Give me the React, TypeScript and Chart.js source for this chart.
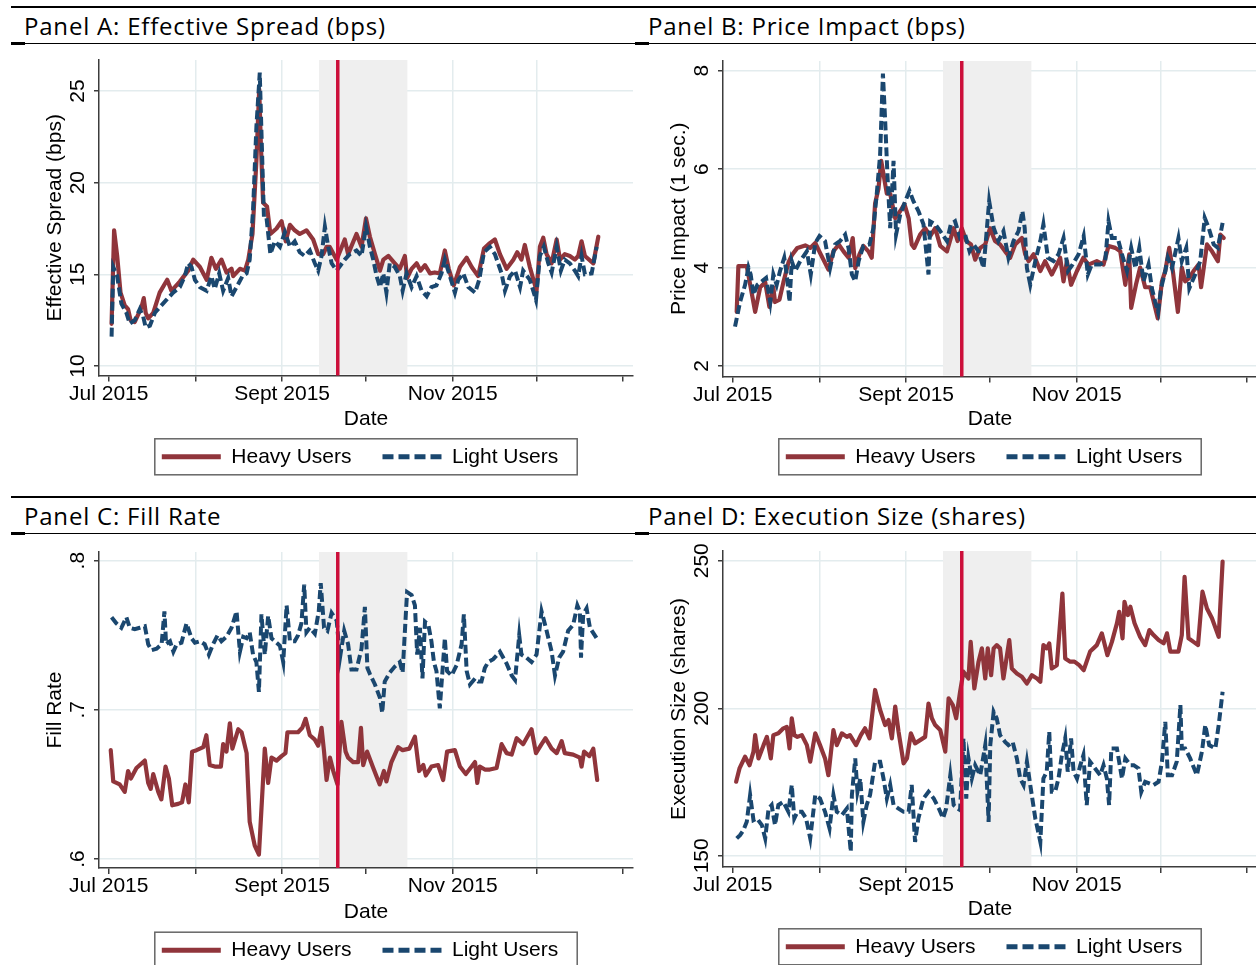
import React, { useEffect, useRef } from 'react';
import Chart from 'chart.js/auto';

// ---------- data (x = calendar days after 1 Jul 2015) ----------
const monthTickDays = [0, 31, 62, 92, 123, 153, 184];
const monthTickLabels = ['Jul 2015', '', 'Sept 2015', '', 'Nov 2015', '', ''];
const seriesNames = ['Heavy Users', 'Light Users'];
const eventWindowDays = [75.2, 106.8];
const eventDay = 81.9;

const spreadTicks = [10, 15, 20, 25];
const spreadTickLabels = ['10', '15', '20', '25'];
const impactTicks = [2, 4, 6, 8];
const impactTickLabels = ['2', '4', '6', '8'];
const fillTicks = [0.6, 0.7, 0.8];
const fillTickLabels = ['.6', '.7', '.8'];
const sizeTicks = [150, 200, 250];
const sizeTickLabels = ['150', '200', '250'];

const spreadHeavy = [[1,12.3],[1.9,17.4],[3,16.0],[4.2,14.0],[5.7,13.3],[6.9,13.1],[7.8,12.5],[9.3,12.4],[11.7,13.2],[12.5,13.7],[13.2,12.9],[14.1,12.6],[15.9,12.9],[18.2,14.0],[20.9,14.7],[22.4,14.1],[25.4,14.6],[28.4,15.2],[30.2,15.8],[32.6,15.4],[35,14.7],[36.7,15.9],[38.3,15.3],[40.3,15.8],[42.1,15.1],[43.9,15.3],[44.5,14.9],[46.9,15.3],[48.7,15.2],[49.9,15.8],[51.4,17.2],[52.8,21.2],[53.8,25.1],[54.4,22.1],[55.2,18.9],[56.6,18.7],[57.8,17.2],[60,17.5],[61.8,17.9],[63.3,16.8],[64.8,17.7],[66.5,17.4],[68.3,17.2],[70.7,17.4],[73.1,16.9],[74.9,16.1],[76.7,16.1],[77.9,16.5],[79,16.5],[81.5,15.8],[84.4,16.9],[85.6,16.1],[88.6,17.2],[90.4,16.5],[92,18.05],[93.4,17.05],[95.2,16.1],[97,15.2],[98.2,15.8],[100,16.0],[102.3,15.6],[104.1,15.3],[105.9,16.0],[106.7,14.8],[108.3,15.3],[110.1,15.6],[111.5,15.2],[113.1,15.5],[114.9,15.05],[116.6,15.1],[118.4,15.05],[120.2,16.3],[121.6,15.3],[123.4,14.4],[125.6,15.4],[128,15.9],[129.8,15.4],[132.1,14.9],[134.2,16.4],[136.3,16.7],[138.1,16.9],[139.9,16.1],[142.3,15.3],[144.7,15.8],[146.1,16.2],[147.6,15.8],[148.8,16.6],[150.6,15.4],[153,14.1],[154.2,16.5],[155.4,17.0],[156.6,16.1],[158.4,15.6],[160.2,16.9],[161.4,15.8],[163.1,16.1],[164.9,16.0],[166.7,15.8],[167.9,16.0],[169.1,16.8],[170.3,16.0],[173.3,15.6],[175.1,17.05]];
const spreadLight = [[1,11.6],[1.6,15.4],[3,14.9],[4.5,13.4],[6.3,12.9],[7.5,12.3],[9.3,12.5],[11.1,13.1],[12.3,12.7],[13.2,12.1],[14.7,12.2],[16.5,12.9],[18.2,13.2],[20.6,13.6],[23,14.0],[25.4,14.3],[27.2,14.9],[28.4,15.6],[29.6,15.4],[30.8,14.7],[32.6,14.3],[35,14.1],[36.7,14.9],[37.9,14.2],[39.5,15.05],[40.9,14.1],[42.7,14.8],[43.9,13.8],[45.7,14.3],[47.8,14.9],[49.3,15.05],[50.4,15.8],[51.6,18.5],[52.8,23.05],[54,26.0],[54.9,21.2],[55.5,18.1],[56.4,18.1],[57.8,16.1],[59.4,16.8],[61.2,16.5],[63,17.3],[64.8,16.5],[66.5,16.8],[68.3,16.2],[70.1,16.0],[71.9,16.3],[73.7,15.6],[74.9,15.2],[76.1,16.0],[77.3,17.6],[78.5,16.5],[79.7,15.6],[81.5,15.2],[84.4,15.8],[86.2,16.1],[88.6,16.3],[90.4,16.0],[92,17.6],[93.4,16.5],[94.6,15.8],[95.8,14.9],[97,14.3],[98.2,15.05],[99.3,14.0],[100.5,15.6],[102.3,15.4],[104.1,14.9],[105.1,14.1],[106.5,15.05],[108.3,14.3],[110.1,14.9],[111.9,14.1],[113.7,13.8],[115.4,14.3],[117.2,14.4],[119,15.05],[120.2,15.8],[122,14.9],[123.8,14.0],[125,14.7],[126.8,15.05],[128.6,14.3],[131,14.0],[132.5,14.7],[134.2,16.2],[136.3,16.5],[138.1,16.1],[140.5,15.05],[141.7,14.1],[143.5,14.9],[145.3,15.2],[147.1,14.3],[148.2,15.2],[150.6,14.7],[152.8,13.6],[154.2,16.0],[155.6,16.5],[157.2,15.6],[158.4,15.1],[160.2,16.5],[161.7,15.2],[163.1,15.8],[164.9,15.6],[166.7,15.2],[167.9,14.9],[169.1,16.0],[170.3,15.0],[172.7,15.05],[174.5,16.5]];

const impactHeavy = [[1.4,3.1],[2,4.03],[5,4.03],[6.4,3.6],[8,3.1],[9.8,3.6],[11.6,3.7],[13.1,3.2],[14.5,3.6],[15.1,3.3],[16.7,3.35],[18.1,3.7],[19.9,4.1],[21.1,4.25],[23.1,4.4],[25.9,4.45],[27.7,4.4],[29.5,4.5],[31.2,4.3],[34.2,3.96],[36,4.33],[37.9,4.47],[39.6,4.33],[41.4,4.2],[42.9,4.6],[43.8,3.99],[45.3,4.27],[46.7,4.44],[48.5,4.33],[49.7,4.2],[50.9,5.3],[52.1,5.6],[53.1,6.17],[53.9,5.9],[55.1,5.5],[56.3,5.5],[58.1,5.0],[59.9,5.15],[61.4,5.29],[62.9,5.0],[64,4.47],[64.9,4.4],[67,4.67],[68.8,4.8],[70.6,4.64],[72.4,4.8],[74.2,4.44],[76.6,4.33],[79,4.8],[80.4,4.54],[81.9,4.8],[83.5,4.54],[85.2,4.47],[86.7,4.16],[88.5,4.4],[90.3,4.47],[92,4.8],[93.8,4.54],[95.6,4.47],[97.4,4.33],[99.2,4.2],[101,4.47],[103.4,4.6],[104.6,4.27],[105.8,4.13],[107.6,4.27],[110,3.93],[111.7,4.13],[114.1,3.86],[115.9,4.06],[117.1,4.2],[118.3,3.72],[119.5,4.13],[121,3.65],[123.1,3.93],[125.4,4.2],[127.2,4.06],[130.2,4.13],[132.6,4.06],[134.4,4.44],[136.8,4.4],[138.6,4.33],[140.4,3.65],[141.8,4.27],[142.5,3.18],[144.2,3.65],[145.7,4.0],[147.5,3.6],[149.3,3.6],[152,2.97],[153.5,3.72],[154.7,3.93],[156.1,4.4],[157.4,3.93],[159.2,3.1],[160.6,4.0],[161.8,3.72],[163.3,3.79],[164.8,3.93],[166.6,4.06],[167.5,3.6],[169.6,4.47],[171.4,4.33],[173.5,4.13],[174.4,4.67],[175.6,4.6]];
const impactLight = [[0.8,2.8],[2.6,3.3],[4.4,3.65],[5.6,4.0],[6.4,3.86],[7.4,3.45],[8.8,3.65],[10.4,3.72],[11.9,3.79],[13.4,3.3],[14.5,3.86],[15.7,3.65],[16.9,3.93],[18.4,4.2],[19.3,3.86],[20.3,3.3],[21.1,4.13],[22.3,3.93],[24.1,4.13],[26.5,4.33],[27.9,3.86],[29.5,4.5],[31,4.64],[33,4.54],[34.8,3.99],[36.6,4.47],[38.4,4.54],[40.2,4.67],[41.4,4.4],[42.6,3.86],[43.8,3.72],[45,4.13],[46.7,4.44],[48.9,4.47],[50.3,4.8],[51.5,5.5],[52.7,6.3],[53.7,7.94],[54.5,6.99],[55.3,5.9],[56.3,4.8],[57.5,6.17],[58.4,4.67],[59.9,5.08],[61.7,5.35],[63.2,5.56],[64.6,5.35],[66.4,5.15],[68.2,4.88],[70,3.86],[70.6,4.94],[72.4,4.88],[74.2,4.74],[76.6,4.54],[78,4.88],[79.5,4.94],[81.3,4.6],[83.1,4.67],[84.7,4.33],[86.1,4.47],[87.9,4.33],[89.7,3.99],[90.9,4.8],[91.7,5.35],[93.3,4.81],[95,4.54],[96.8,4.74],[98.6,4.2],[100.4,4.54],[102.2,4.74],[103.6,5.15],[104.4,4.81],[105.2,3.99],[106.4,3.65],[108.2,4.13],[110,4.54],[111.1,4.88],[112.7,4.2],[114.7,4.13],[116.5,4.27],[118.3,4.6],[119.9,3.93],[121.5,4.06],[123.7,4.27],[125.5,4.64],[127,3.86],[128.4,4.06],[131.4,4.06],[133.2,4.13],[134.4,4.94],[135.6,4.6],[137.7,4.6],[139.2,4.27],[141,3.93],[142.5,4.4],[144,3.99],[145.4,4.4],[146.9,3.72],[148.7,4.06],[149.9,3.58],[151.1,3.3],[152.1,3.1],[153.2,3.58],[154.7,3.93],[155.6,4.2],[157.1,3.99],[159.4,4.6],[160.6,4.13],[162.2,4.4],[163.3,3.58],[165.4,3.86],[167.2,4.13],[168.8,5.01],[170.2,4.81],[172,4.47],[173.5,4.4],[175.2,4.91]];

const fillHeavy = [[0.7,.673],[1.6,.652],[3.9,.650],[5.7,.645],[6.9,.659],[7.9,.654],[9.9,.661],[12.9,.666],[14.1,.651],[15,.647],[15.9,.657],[17.7,.645],[18.8,.640],[20.3,.662],[21.5,.654],[22.7,.636],[24.8,.637],[26.2,.638],[27.4,.650],[28.6,.638],[29.8,.672],[31.4,.673],[33.8,.675],[34.9,.683],[36.1,.663],[37.9,.662],[40.1,.662],[40.9,.677],[42.1,.672],[43.3,.691],[44.2,.674],[46.3,.687],[47.5,.685],[49.3,.671],[50.4,.625],[52.2,.609],[53.7,.603],[55.8,.674],[57,.651],[58.2,.668],[60,.666],[61.8,.669],[63.2,.671],[63.9,.685],[65.4,.685],[67.7,.685],[69.2,.688],[70.4,.694],[71.9,.683],[73.7,.680],[74.9,.676],[76.1,.688],[77,.672],[77.9,.653],[79.1,.668],[80.3,.659],[81.8,.650],[83.2,.692],[84.7,.672],[85.6,.668],[87.4,.665],[89.2,.665],[90.2,.688],[91,.663],[92.4,.672],[94.6,.661],[96.9,.650],[98.4,.659],[99.3,.652],[101.1,.665],[103.5,.675],[105.1,.673],[107.5,.674],[109.5,.682],[111,.659],[112.5,.663],[113.4,.656],[115.4,.662],[117.8,.663],[119.6,.653],[121,.672],[123.8,.673],[125.6,.662],[127.7,.657],[129.8,.662],[131,.665],[131.8,.651],[132.7,.662],[134.5,.660],[136.3,.660],[138.7,.661],[140.5,.677],[142.3,.671],[144.1,.670],[145.9,.681],[148.2,.677],[151.2,.687],[152.8,.671],[154.8,.677],[156.2,.681],[158.4,.674],[160.2,.671],[162,.679],[163.1,.671],[166.1,.670],[168.5,.668],[169.1,.662],[170,.672],[171.9,.669],[173.3,.674],[174.7,.653]];
const fillLight = [[1,.762],[2.7,.758],[4.5,.755],[6.3,.762],[7.5,.755],[9.3,.754],[11.1,.755],[12.9,.756],[14.1,.744],[15.3,.740],[17.1,.741],[18.9,.744],[19.9,.766],[20.5,.744],[21.9,.746],[23.1,.739],[24.3,.744],[26,.745],[27.8,.758],[29.6,.748],[30.8,.745],[32.6,.746],[34.3,.744],[35.8,.737],[37.3,.744],[38.9,.750],[40.3,.746],[42.1,.749],[43.9,.755],[45.7,.766],[46.9,.739],[48.1,.749],[49.3,.748],[50.4,.752],[51.6,.737],[52.8,.732],[53.7,.712],[54.6,.764],[55.8,.737],[57,.763],[58.2,.748],[60,.745],[61.2,.743],[62.4,.732],[63.6,.770],[64.8,.746],[66.5,.746],[67.7,.750],[68.9,.758],[69.9,.784],[70.7,.752],[71.9,.755],[73.7,.751],[75.1,.766],[75.8,.785],[77,.755],[78.2,.753],[79.7,.765],[81.5,.760],[82.7,.735],[84.2,.753],[85.6,.744],[86.8,.727],[88.6,.727],[90.4,.741],[91.6,.769],[92.5,.728],[93.4,.724],[95.2,.717],[97,.708],[97.8,.698],[98.7,.719],[100.5,.725],[102.3,.729],[104.1,.732],[105.1,.725],[106.3,.766],[106.7,.779],[108.3,.777],[109.5,.770],[110.3,.737],[111.3,.755],[112.2,.721],[113.1,.759],[114.3,.757],[115.4,.746],[116.3,.732],[117.2,.726],[118.4,.701],[119,.717],[120.2,.748],[121,.726],[122.6,.723],[124.4,.730],[126.2,.744],[127,.764],[128,.726],[129.2,.717],[131,.721],[132.1,.719],[133.3,.719],[134.5,.728],[135.7,.732],[137.5,.734],[139.9,.739],[142.3,.731],[144.1,.723],[145.3,.720],[146.8,.750],[147.6,.737],[149.4,.735],[151.2,.732],[153,.737],[154.8,.766],[156.6,.753],[158.4,.739],[159.6,.723],[161.1,.735],[162.5,.739],[164.3,.753],[166.1,.757],[167.6,.770],[168.5,.766],[168.9,.735],[169.7,.764],[170.9,.768],[172.1,.755],[174.5,.748]];

const sizeHeavy = [[1.2,175.1],[2.4,179.6],[4.4,183.6],[6,180.7],[7.4,185.3],[8,190.9],[9.2,183],[11,187.5],[12.2,190.3],[13.6,183],[14.5,190.9],[16.3,191.5],[18.1,193.2],[19.3,193.7],[20.3,186.4],[21.1,196.6],[22,190.9],[23.1,190.3],[24.7,190.9],[26.5,187.5],[27.7,181.9],[29.5,191.5],[31.2,187.5],[33,183],[34.2,177.3],[36,192.6],[37.2,187.5],[39,191.5],[40.8,190.3],[41.9,190.9],[44.1,187.5],[45.8,190.9],[47.3,193.2],[48.9,189.8],[50.9,206.2],[52.7,199.4],[54.5,194.3],[55.7,196],[56.9,189.8],[58.1,200.6],[59.3,192],[61.1,181.3],[62.3,183],[63.7,191.5],[65.2,188.1],[67,189.2],[68.8,190.3],[70,201.6],[71.2,196.6],[72.4,194.3],[74.2,192.6],[76,185.3],[77.2,203.4],[78.7,201.1],[79.9,196.6],[81.3,205.6],[82.5,212.4],[84.3,210.1],[85.1,222.5],[86.4,206.7],[87.9,215.8],[89.1,220.3],[90.3,210.1],[91.2,220.3],[92.4,211.2],[93.3,220.3],[94.4,221.4],[95.6,220.3],[96.8,210.1],[98.9,223.1],[99.8,213.5],[101.6,211.8],[103.4,210.7],[105.2,208.4],[107,211.2],[108.8,210.1],[110,209],[111.1,221.4],[112.3,220.3],[113.2,222],[114.1,213.5],[115.9,214.6],[117.9,238.9],[118.9,216.9],[120.7,215.8],[122.2,215.8],[123.9,214.6],[125.5,212.9],[127.8,219.2],[130.2,221.4],[132,225.4],[134,218],[135.6,222.5],[137.4,228.8],[138.2,232.7],[139.4,223.7],[140.1,236.1],[141.3,231.6],[142.2,234.4],[143.7,228.8],[145.7,224.2],[147.5,221.4],[149,226.5],[150.5,224.8],[152.3,223.1],[154.1,222],[155.3,225.4],[156.5,219.2],[159.4,219.2],[160.6,224.8],[161.6,244.5],[163,223.7],[164.8,222.5],[166.4,221.4],[168,239.5],[169.6,233.8],[171.4,230.5],[173.8,224.2],[175.2,249.7]];
const sizeLight = [[1.4,155.9],[2.6,157],[3.8,158.7],[5,161.5],[6.2,170.6],[7.4,162.1],[8.6,162.7],[10.4,160.4],[11.6,155.9],[12.8,166],[13.9,167.2],[15.1,160.4],[16.3,167.2],[18.1,168.3],[19.9,164.9],[21.1,174],[22,162.7],[23.1,164.9],[24.7,164.9],[26.2,162.7],[27.7,155.9],[29.5,170.6],[31.2,169.4],[33,164.9],[34.6,159.3],[36,170.6],[37.2,164.9],[39,163.8],[40.8,166],[42.2,151.4],[42.6,170.6],[43.8,183],[44.6,171.7],[45.6,176.2],[46.7,161.5],[47.9,167.2],[49.1,170.6],[50.9,181.9],[52.7,181.9],[53.9,176.2],[55.1,169.4],[56.3,174],[57.5,167.2],[59.3,166],[61.1,164.9],[62.9,164.9],[64,174],[65.2,154.7],[66.4,162.7],[68.2,169.4],[70,171.7],[71.9,169.4],[73.7,166],[75.2,162.7],[76.3,166],[77.8,177.3],[79,167.2],[80.4,166],[81.3,165.5],[82.5,189.8],[83.5,169.4],[84.3,183],[85.5,176.2],[86.7,180.7],[88.5,177.3],[90.3,187.5],[91.5,161.5],[92.1,187.5],[93.3,198.8],[94.4,196.6],[95.6,190.9],[97.4,188.6],[98.6,187.5],[100.1,188.6],[101.6,183],[102.8,176.2],[104,174],[105.2,181.9],[106.4,174],[108.2,162.7],[110,154.7],[111.1,176.2],[112.3,178.5],[113.2,192],[114.1,171.7],[115.3,171.7],[116.5,176.2],[117.7,184.1],[118.9,189.8],[119.8,178.5],[121,189.8],[121.9,178.5],[123.1,176.2],[124.3,180.7],[125.4,184.1],[126.6,167.2],[127.8,181.9],[129.6,179.6],[131.4,177.3],[132.6,180.7],[133.8,176.2],[134.6,167.2],[135.4,186.4],[137.4,186.4],[139.2,176.2],[140.4,183],[142.2,180.7],[143.4,180.7],[145.1,179.6],[146.1,171.7],[147.5,175.1],[150.5,174],[152.3,175.1],[153.5,181.9],[154.7,195.4],[155.6,177.3],[157.1,177.3],[158.8,181.9],[160.1,201.1],[160.6,186.4],[161.8,186.4],[163.6,183],[166,177.3],[167.8,185.3],[169,194.3],[170.4,187.5],[172.6,186.4],[173.8,194.3],[175.2,205.6]];

// ---------- styles / layout ----------
const HEAVY = '#90353B';
const LIGHT = '#1A476F';
const EVENT = '#CC0F3A';
const SHADE = '#EFEFEF';
const GRID = '#E3ECEE';
const AXIS = '#3C3C3C';
const FONT = '"Liberation Sans", Arial, Helvetica, sans-serif';
const TITLE_FONT = '"Open Sans", "Noto Sans", sans-serif';

const panels = [
  { key: 'A', title: 'Panel A: Effective Spread (bps)', yTitle: 'Effective Spread (bps)', heavy: spreadHeavy, light: spreadLight, ticks: spreadTicks, tickLabels: spreadTickLabels, yMin: 9.48, yMax: 26.69, canvasLeft: 30, plotRight: 633, plotTop: 60, plotBottom: 375.5, legendY: 456.8, dateY: 418.8, titleLeft: 24, headerTop: 0 },
  { key: 'B', title: 'Panel B: Price Impact (bps)', yTitle: 'Price Impact (1 sec.)', heavy: impactHeavy, light: impactLight, ticks: impactTicks, tickLabels: impactTickLabels, yMin: 1.787, yMax: 8.197, canvasLeft: 654, plotRight: 1257, plotTop: 61, plotBottom: 376.5, legendY: 456.8, dateY: 419, titleLeft: 648, headerTop: 0 },
  { key: 'C', title: 'Panel C: Fill Rate', yTitle: 'Fill Rate', heavy: fillHeavy, light: fillLight, ticks: fillTicks, tickLabels: fillTickLabels, yMin: 0.594, yMax: 0.8058, canvasLeft: 30, plotRight: 633, plotTop: 552, plotBottom: 868, legendY: 950.2, dateY: 912.5, titleLeft: 24, headerTop: 490 },
  { key: 'D', title: 'Panel D: Execution Size (shares)', yTitle: 'Execution Size (shares)', heavy: sizeHeavy, light: sizeLight, ticks: sizeTicks, tickLabels: sizeTickLabels, yMin: 146.2, yMax: 253.3, canvasLeft: 654, plotRight: 1257, plotTop: 551, plotBottom: 867, legendY: 946.8, dateY: 909.2, titleLeft: 648, headerTop: 490 },
];

const Y_AXIS_W = 69;
const LEGEND_PAD = 31;
const LEGEND_FONT = 21;
const LEGEND_H = LEGEND_FONT + LEGEND_PAD + 10;

const eventPlugin = {
  id: 'eventWindow',
  beforeDatasetsDraw(chart: any) {
    const { ctx, chartArea, scales } = chart;
    const x0 = scales.x.getPixelForValue(eventWindowDays[0]);
    const x1 = scales.x.getPixelForValue(eventWindowDays[1]);
    ctx.save();
    ctx.fillStyle = SHADE;
    ctx.fillRect(x0, chartArea.top, x1 - x0, chartArea.bottom - chartArea.top - 1);
    ctx.restore();
  },
  afterDatasetsDraw(chart: any) {
    const { ctx, chartArea, scales } = chart;
    const x = scales.x.getPixelForValue(eventDay);
    ctx.save();
    ctx.strokeStyle = EVENT;
    ctx.lineWidth = 3.5;
    ctx.beginPath();
    ctx.moveTo(x, chartArea.top);
    ctx.lineTo(x, chartArea.bottom);
    ctx.stroke();
    ctx.restore();
  },
};

const legendFramePlugin = {
  id: 'legendFrame',
  afterLayout(chart: any) {
    const lg = chart.legend;
    if (lg) { lg.left -= 6; lg.right -= 6; }
  },
  afterDraw(chart: any) {
    const lg = chart.legend;
    if (!lg || !lg.legendHitBoxes || !lg.legendHitBoxes.length) return;
    const hb = lg.legendHitBoxes;
    const last = hb[hb.length - 1];
    const left = hb[0].left - 7;
    const right = last.left + last.width + 19;
    const cy = hb[0].top + hb[0].height / 2;
    const ctx = chart.ctx;
    ctx.save();
    ctx.strokeStyle = '#666';
    ctx.lineWidth = 1.5;
    ctx.strokeRect(left, cy - 18, right - left, 36);
    ctx.restore();
  },
};

function PanelChart({ p }: { p: any }) {
  const ref = useRef<HTMLCanvasElement>(null);
  const plotH = p.plotBottom - p.plotTop;
  const hx = p.legendY - LEGEND_PAD - LEGEND_FONT / 2 - p.plotBottom;
  const rawH = 11 + plotH + hx + LEGEND_H;
  const canvasH = Math.ceil(rawH);
  const padBottom = canvasH - rawH;
  const canvasTop = p.plotTop - 11;
  const canvasW = p.canvasLeft === 30 ? 610 : 603;
  const padRight = canvasW - (p.plotRight - p.canvasLeft);
  const datePad = hx - (p.dateY - p.plotBottom) - 12.6;

  useEffect(() => {
    const canvas = ref.current;
    if (!canvas) return;
    const mctx = document.createElement('canvas').getContext('2d') as CanvasRenderingContext2D;
    mctx.font = `21px ${FONT}`;
    const widest = Math.max(...p.tickLabels.map((l: string) => mctx.measureText(l).width));
    const yTickLen = 5;
    const yTickPad = 20.5 - yTickLen - widest / 2;

    const defaultLabels = (Chart as any).defaults.plugins.legend.labels.generateLabels;

    const chart = new Chart(canvas, {
      type: 'line',
      data: {
        datasets: [
          {
            label: seriesNames[0],
            data: p.heavy.map(([x, y]: number[]) => ({ x, y })),
            borderColor: HEAVY,
            backgroundColor: HEAVY,
            borderWidth: 4.2,
            pointRadius: 0,
            tension: 0,
            fill: false,
            borderJoinStyle: 'round',
            borderCapStyle: 'round',
            order: 1,
          },
          {
            label: seriesNames[1],
            data: p.light.map(([x, y]: number[]) => ({ x, y })),
            borderColor: LIGHT,
            backgroundColor: LIGHT,
            borderWidth: 4,
            borderDash: [9, 4],
            pointRadius: 0,
            tension: 0,
            fill: false,
            borderJoinStyle: 'miter',
            borderCapStyle: 'butt',
            order: 0,
          },
        ],
      },
      options: {
        animation: false,
        responsive: false,
        maintainAspectRatio: false,
        devicePixelRatio: 1,
        events: [],
        layout: { padding: { left: 0, top: 11, right: padRight, bottom: padBottom } },
        scales: {
          x: {
            type: 'linear',
            position: 'bottom',
            min: -3.5,
            max: 187.5,
            afterBuildTicks: (s: any) => { s.ticks = monthTickDays.map((v) => ({ value: v })); },
            afterFit: (s: any) => { s.height = hx; s.paddingLeft = 0; s.paddingRight = 0; },
            ticks: {
              autoSkip: false, maxRotation: 0, minRotation: 0, padding: 0, color: '#000',
              font: { family: FONT, size: 21 },
              callback: (_v: any, i: number) => monthTickLabels[i],
            },
            grid: {
              color: (c: any) => (c.index === 0 || c.index === monthTickDays.length - 1 ? 'rgba(0,0,0,0)' : GRID),
              lineWidth: 1.5, drawTicks: true, tickLength: 6, tickColor: AXIS, tickWidth: 1.5,
            },
            border: { display: true, color: AXIS, width: 1.5 },
            title: { display: true, text: 'Date', color: '#000', font: { family: FONT, size: 21 }, padding: { top: 0, bottom: datePad } },
          },
          y: {
            type: 'linear',
            position: 'left',
            min: p.yMin,
            max: p.yMax,
            afterBuildTicks: (s: any) => { s.ticks = p.ticks.map((v: number) => ({ value: v })); },
            afterFit: (s: any) => { s.width = Y_AXIS_W; s.paddingTop = 0; s.paddingBottom = 0; },
            ticks: {
              autoSkip: false, minRotation: 90, maxRotation: 90, crossAlign: 'center', padding: yTickPad, color: '#000',
              font: { family: FONT, size: 21 },
              callback: (_v: any, i: number) => p.tickLabels[i],
            },
            grid: { color: GRID, lineWidth: 1.5, drawTicks: true, tickLength: yTickLen, tickColor: AXIS, tickWidth: 1.5 },
            border: { display: true, color: AXIS, width: 1.5 },
            title: { display: true, text: p.yTitle, color: '#000', font: { family: FONT, size: 21 }, padding: { top: 12.4, bottom: 0 } },
          },
        },
        plugins: {
          tooltip: { enabled: false },
          legend: {
            display: true,
            position: 'bottom',
            fullSize: false,
            labels: {
              usePointStyle: true,
              pointStyle: 'line',
              pointStyleWidth: 59,
              padding: LEGEND_PAD,
              color: '#000',
              font: { family: FONT, size: LEGEND_FONT },
              generateLabels: (c: any) =>
                defaultLabels(c)
                  .slice()
                  .sort((a: any, b: any) => a.datasetIndex - b.datasetIndex)
                  .map((it: any) => ({
                    ...it,
                    lineWidth: 5,
                    lineDash: it.datasetIndex === 1 ? [11, 5] : [],
                    lineCap: 'butt',
                  })),
            },
          },
        },
      } as any,
      plugins: [eventPlugin, legendFramePlugin],
    } as any);
    return () => chart.destroy();
  }, []);

  return (
    <canvas
      ref={ref}
      width={canvasW}
      height={canvasH}
      style={{ position: 'absolute', left: p.canvasLeft, top: canvasTop, width: canvasW, height: canvasH }}
    />
  );
}

export default function App() {
  return (
    <div style={{ position: 'fixed', left: 0, top: 0, width: 1256, height: 965, overflow: 'hidden', background: '#fff' }}>
      {[0, 490].map((rowTop) => (
        <React.Fragment key={rowTop}>
          <div style={{ position: 'absolute', left: 11, top: rowTop + 6, width: 1245, height: 2, background: '#000' }} />
          <div style={{ position: 'absolute', left: 11, top: rowTop + 43, width: 1245, height: 1, background: '#000' }} />
          <div style={{ position: 'absolute', left: 11, top: rowTop + 42, width: 14, height: 3, background: '#000' }} />
          <div style={{ position: 'absolute', left: 635, top: rowTop + 42, width: 14, height: 3, background: '#000' }} />
        </React.Fragment>
      ))}
      {panels.map((p) => (
        <div
          key={'t' + p.key}
          style={{
            position: 'absolute', left: p.titleLeft, top: p.headerTop + 14, fontFamily: TITLE_FONT,
            fontSize: 24, lineHeight: '24px', letterSpacing: '0.8px', color: '#000', whiteSpace: 'nowrap',
          }}
        >
          {p.title}
        </div>
      ))}
      {panels.map((p) => (
        <PanelChart key={p.key} p={p} />
      ))}
    </div>
  );
}
